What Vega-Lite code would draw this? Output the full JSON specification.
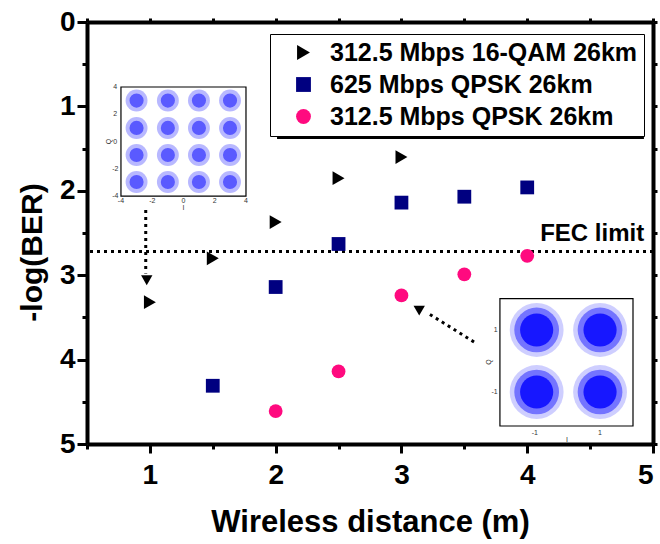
{
  "$schema": "https://vega.github.io/schema/vega-lite/v6.json",
  "width": 566,
  "height": 422,
  "autosize": "none",
  "padding": {"left": 87, "top": 22, "right": 7, "bottom": 100},
  "background": "white",
  "config": {
    "view": {"stroke": null},
    "font": "Liberation Sans",
    "axis": {
      "domainColor": "black", "domainWidth": 4, "tickColor": "black", "tickWidth": 3,
      "labelFont": "Liberation Sans", "labelFontSize": 28, "labelFontWeight": "bold", "labelColor": "black",
      "titleFont": "Liberation Sans", "titleFontSize": 31, "titleFontWeight": "bold", "titleColor": "black",
      "grid": false
    }
  },
  "datasets": {
    "pts": [
      {"x": 1, "y": 3.32, "series": "312.5 Mbps 16-QAM 26km"},
      {"x": 1.5, "y": 2.8, "series": "312.5 Mbps 16-QAM 26km"},
      {"x": 2, "y": 2.37, "series": "312.5 Mbps 16-QAM 26km"},
      {"x": 2.5, "y": 1.85, "series": "312.5 Mbps 16-QAM 26km"},
      {"x": 3, "y": 1.6, "series": "312.5 Mbps 16-QAM 26km"},
      {"x": 1.5, "y": 4.31, "series": "625 Mbps QPSK 26km"},
      {"x": 2, "y": 3.14, "series": "625 Mbps QPSK 26km"},
      {"x": 2.5, "y": 2.63, "series": "625 Mbps QPSK 26km"},
      {"x": 3, "y": 2.14, "series": "625 Mbps QPSK 26km"},
      {"x": 3.5, "y": 2.07, "series": "625 Mbps QPSK 26km"},
      {"x": 4, "y": 1.96, "series": "625 Mbps QPSK 26km"},
      {"x": 2, "y": 4.61, "series": "312.5 Mbps QPSK 26km"},
      {"x": 2.5, "y": 4.14, "series": "312.5 Mbps QPSK 26km"},
      {"x": 3, "y": 3.24, "series": "312.5 Mbps QPSK 26km"},
      {"x": 3.5, "y": 2.99, "series": "312.5 Mbps QPSK 26km"},
      {"x": 4, "y": 2.77, "series": "312.5 Mbps QPSK 26km"}
    ],
    "shadowbox": [{"x": 2.011, "x2": 4.928, "y": 0.213, "y2": 1.386}],
    "fecline": [{"y": 2.72}],
    "feclabel": [{"x": 4.93, "y": 2.6, "label": "FEC limit"}],
    "arrowlines": [
      {"x": 0.967, "y": 2.227, "x2": 0.967, "y2": 2.98},
      {"x": 3.577, "y": 3.791, "x2": 3.2, "y2": 3.44}
    ],
    "headdown": [{"x": 0.975, "y": 3.06}],
    "headdiag": [{"x": 3.13, "y": 3.39}],
    "insetboxes": [
      {"x": 0.77, "x2": 1.764, "y": 0.77, "y2": 2.062},
      {"x": 3.783, "x2": 4.841, "y": 3.278, "y2": 4.787}
    ],
    "qamclusters": [
      {"x": 0.894, "y": 0.931}, {"x": 1.143, "y": 0.931}, {"x": 1.39, "y": 0.931}, {"x": 1.637, "y": 0.931},
      {"x": 0.894, "y": 1.255}, {"x": 1.143, "y": 1.255}, {"x": 1.39, "y": 1.255}, {"x": 1.637, "y": 1.255},
      {"x": 0.894, "y": 1.576}, {"x": 1.143, "y": 1.576}, {"x": 1.39, "y": 1.576}, {"x": 1.637, "y": 1.576},
      {"x": 0.894, "y": 1.896}, {"x": 1.143, "y": 1.896}, {"x": 1.39, "y": 1.896}, {"x": 1.637, "y": 1.896}
    ],
    "qpskclusters": [
      {"x": 4.075, "y": 3.649}, {"x": 4.579, "y": 3.649},
      {"x": 4.075, "y": 4.384}, {"x": 4.579, "y": 4.384}
    ],
    "insetticks": [
      {"x": 0.77, "y": 2.121, "label": "-4"},
      {"x": 1.019, "y": 2.121, "label": "-2"},
      {"x": 1.267, "y": 2.121, "label": "0"},
      {"x": 1.516, "y": 2.121, "label": "2"},
      {"x": 1.764, "y": 2.121, "label": "4"},
      {"x": 1.267, "y": 2.2, "label": "I"},
      {"x": 0.725, "y": 0.77, "label": "4"},
      {"x": 0.725, "y": 1.093, "label": "2"},
      {"x": 0.725, "y": 1.416, "label": "0"},
      {"x": 0.725, "y": 1.739, "label": "-2"},
      {"x": 0.725, "y": 2.062, "label": "-4"},
      {"x": 3.75, "y": 3.649, "label": "1"},
      {"x": 3.74, "y": 4.384, "label": "-1"},
      {"x": 4.06, "y": 4.87, "label": "-1"},
      {"x": 4.579, "y": 4.87, "label": "1"},
      {"x": 4.316, "y": 4.955, "label": "I"}
    ],
    "insetq": [
      {"x": 0.675, "y": 1.416, "label": "Q"},
      {"x": 3.696, "y": 4.028, "label": "Q"}
    ]
  },
  "layer": [
    {
      "layer": [
        {
          "data": {"name": "shadowbox"},
          "mark": {"type": "rect", "color": "black", "filled": true, "opacity": 1},
          "encoding": {
            "x": {"field": "x", "type": "quantitative", "scale": {"domain": [0.5, 5], "nice": false, "zero": false}},
            "x2": {"field": "x2"},
            "y": {"field": "y", "type": "quantitative", "scale": {"domain": [0, 5], "reverse": true, "nice": false, "zero": false}},
            "y2": {"field": "y2"}
          }
        },
        {
          "data": {"name": "fecline"},
          "mark": {"type": "rule", "color": "black", "strokeWidth": 3, "strokeDash": [3, 4]},
          "encoding": {"y": {"field": "y", "type": "quantitative"}}
        },
        {
          "data": {"name": "feclabel"},
          "mark": {"type": "text", "align": "right", "baseline": "alphabetic", "fontSize": 24, "fontWeight": "bold", "font": "Liberation Sans", "color": "black"},
          "encoding": {
            "x": {"field": "x", "type": "quantitative"},
            "y": {"field": "y", "type": "quantitative"},
            "text": {"field": "label"}
          }
        },
        {
          "data": {"name": "arrowlines"},
          "mark": {"type": "rule", "color": "black", "strokeWidth": 3, "strokeDash": [3, 4]},
          "encoding": {
            "x": {"field": "x", "type": "quantitative"},
            "y": {"field": "y", "type": "quantitative"},
            "x2": {"field": "x2"},
            "y2": {"field": "y2"}
          }
        },
        {
          "data": {"name": "headdown"},
          "mark": {"type": "point", "shape": "triangle-down", "filled": true, "color": "black", "opacity": 1, "size": 130},
          "encoding": {"x": {"field": "x", "type": "quantitative"}, "y": {"field": "y", "type": "quantitative"}}
        },
        {
          "data": {"name": "headdiag"},
          "mark": {"type": "point", "shape": "triangle-up", "angle": 300, "filled": true, "color": "black", "opacity": 1, "size": 130},
          "encoding": {"x": {"field": "x", "type": "quantitative"}, "y": {"field": "y", "type": "quantitative"}}
        },
        {
          "data": {"name": "insetboxes"},
          "mark": {"type": "rect", "fill": "white", "stroke": "black", "strokeWidth": 1.2},
          "encoding": {
            "x": {"field": "x", "type": "quantitative"},
            "x2": {"field": "x2"},
            "y": {"field": "y", "type": "quantitative"},
            "y2": {"field": "y2"}
          }
        },
        {
          "data": {"name": "qamclusters"},
          "mark": {"type": "point", "shape": "circle", "filled": true, "color": "#3333ff", "opacity": 0.35, "size": 480},
          "encoding": {"x": {"field": "x", "type": "quantitative"}, "y": {"field": "y", "type": "quantitative"}}
        },
        {
          "data": {"name": "qamclusters"},
          "mark": {"type": "point", "shape": "circle", "filled": true, "color": "#1a1aff", "opacity": 0.6, "size": 200},
          "encoding": {"x": {"field": "x", "type": "quantitative"}, "y": {"field": "y", "type": "quantitative"}}
        },
        {
          "data": {"name": "qpskclusters"},
          "mark": {"type": "point", "shape": "circle", "filled": true, "color": "#3a3aff", "opacity": 0.25, "size": 2900},
          "encoding": {"x": {"field": "x", "type": "quantitative"}, "y": {"field": "y", "type": "quantitative"}}
        },
        {
          "data": {"name": "qpskclusters"},
          "mark": {"type": "point", "shape": "circle", "filled": true, "color": "#1a1aff", "opacity": 0.5, "size": 2000},
          "encoding": {"x": {"field": "x", "type": "quantitative"}, "y": {"field": "y", "type": "quantitative"}}
        },
        {
          "data": {"name": "qpskclusters"},
          "mark": {"type": "point", "shape": "circle", "filled": true, "color": "#0000ff", "opacity": 0.8, "size": 1100},
          "encoding": {"x": {"field": "x", "type": "quantitative"}, "y": {"field": "y", "type": "quantitative"}}
        },
        {
          "data": {"name": "insetticks"},
          "mark": {"type": "text", "fontSize": 7, "color": "#333333", "font": "Liberation Sans", "align": "center", "baseline": "middle"},
          "encoding": {"x": {"field": "x", "type": "quantitative"}, "y": {"field": "y", "type": "quantitative"}, "text": {"field": "label"}}
        },
        {
          "data": {"name": "insetq"},
          "mark": {"type": "text", "fontSize": 7, "color": "#333333", "font": "Liberation Sans", "angle": 270, "align": "center", "baseline": "middle"},
          "encoding": {"x": {"field": "x", "type": "quantitative"}, "y": {"field": "y", "type": "quantitative"}, "text": {"field": "label"}}
        },
        {
          "data": {"name": "pts"},
          "mark": {"type": "point", "filled": true, "opacity": 1, "size": 190},
          "encoding": {
            "x": {
              "field": "x", "type": "quantitative",
              "axis": {
                "title": "Wireless distance (m)",
                "values": [0.5, 1, 1.5, 2, 2.5, 3, 3.5, 4, 4.5, 5],
                "format": "~g",
                "labelExpr": "datum.value % 1 === 0 ? datum.label : ''",
                "tickSize": {"condition": {"test": "datum.value % 1 === 0", "value": 9}, "value": 5},
                "labelPadding": 8,
                "titlePadding": 18
              }
            },
            "y": {
              "field": "y", "type": "quantitative",
              "axis": {
                "title": "-log(BER)",
                "values": [0, 0.5, 1, 1.5, 2, 2.5, 3, 3.5, 4, 4.5, 5],
                "format": "~g",
                "labelExpr": "datum.value % 1 === 0 ? datum.label : ''",
                "tickSize": {"condition": {"test": "datum.value % 1 === 0", "value": 10}, "value": 5},
                "labelPadding": 2,
                "titlePadding": 12,
                "titleFontSize": 30,
                "titleY": 230
              }
            },
            "color": {
              "field": "series", "type": "nominal", "title": null,
              "scale": {"domain": ["312.5 Mbps 16-QAM 26km", "625 Mbps QPSK 26km", "312.5 Mbps QPSK 26km"], "range": ["black", "#000080", "#ff0a7f"]},
              "legend": {
                "orient": "none", "legendX": 183, "legendY": 12,
                "fillColor": "white", "strokeColor": "black",
                "padding": 6, "labelFont": "Liberation Sans", "labelFontSize": 25, "labelFontWeight": "bold", "labelColor": "black",
                "symbolSize": 220, "symbolStrokeWidth": 0, "symbolOffset": 15, "labelOffset": 14, "rowPadding": 6, "labelLimit": 500
              }
            },
            "shape": {
              "field": "series", "type": "nominal", "title": null,
              "scale": {"domain": ["312.5 Mbps 16-QAM 26km", "625 Mbps QPSK 26km", "312.5 Mbps QPSK 26km"], "range": ["triangle-right", "square", "circle"]}
            }
          }
        }
      ]
    },
    {
      "data": {"values": [{"x": 1, "y": 1}]},
      "mark": {"type": "point", "opacity": 0},
      "encoding": {
        "x": {
          "field": "x", "type": "quantitative",
          "axis": {"orient": "top", "title": null, "labels": false, "values": [0.5, 1, 1.5, 2, 2.5, 3, 3.5, 4, 4.5, 5], "tickSize": 4}
        },
        "y": {
          "field": "y", "type": "quantitative",
          "axis": {"orient": "right", "title": null, "labels": false, "values": [0, 0.5, 1, 1.5, 2, 2.5, 3, 3.5, 4, 4.5, 5], "tickSize": 4}
        }
      }
    }
  ],
  "resolve": {"axis": {"x": "independent", "y": "independent"}}
}
